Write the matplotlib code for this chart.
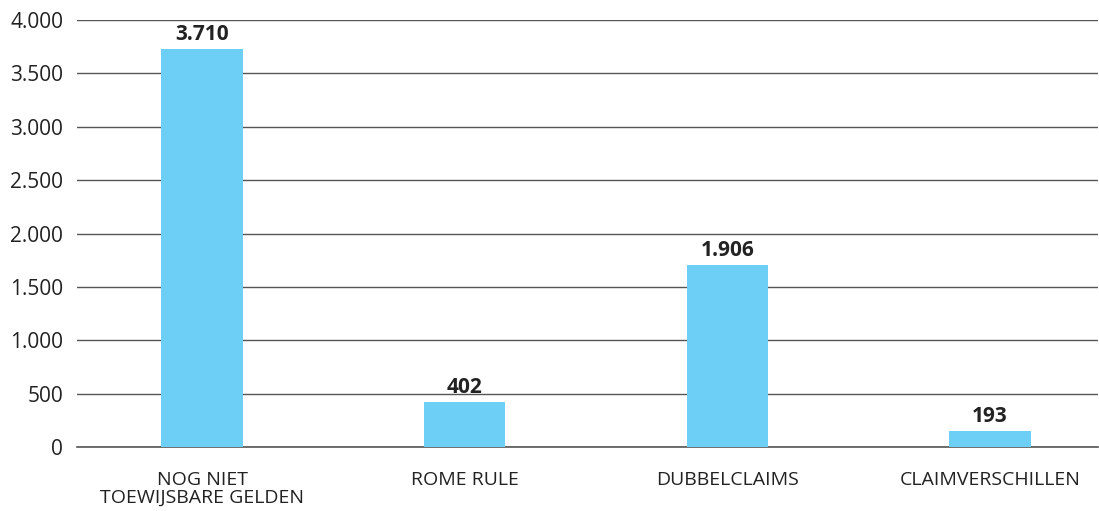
import numpy as np
import matplotlib
matplotlib.use('Agg')
import matplotlib.pyplot as plt

plt.rcParams['font.family'] = ['Open Sans', 'DejaVu Sans']

categories = ['NOG NIET\nTOEWIJSBARE GELDEN', 'ROME RULE', 'DUBBELCLAIMS', 'CLAIMVERSCHILLEN']
# bar heights as drawn in the picture (labels differ from drawn heights)
heights = [3725, 421, 1705, 150]
value_labels = ['3.710', '402', '1.906', '193']
yticks = [0, 500, 1000, 1500, 2000, 2500, 3000, 3500, 4000]
ytick_labels = ['0', '500', '1.000', '1.500', '2.000', '2.500', '3.000', '3.500', '4.000']

fig = plt.figure(figsize=(10.99, 5.11), dpi=100)
ax = fig.add_axes([0.0701, 0.1252, 0.929, 0.8357])

x = np.arange(len(categories))
ax.bar(x, heights, width=0.31, color='#6dcff6', zorder=3)

for xi, h, lab in zip(x, heights, value_labels):
    ax.text(xi, h + 40, lab, ha='center', va='bottom', fontsize=15,
            fontweight='bold', color='#222222')

ax.set_ylim(0, 4000)
ax.set_xlim(-0.476, 3.412)
ax.set_yticks(yticks)
ax.set_yticklabels(ytick_labels, fontsize=15, color='#222222')
ax.set_xticks(x)
ax.set_xticklabels(categories, fontsize=14, color='#222222', linespacing=1.0)
ax.tick_params(axis='y', length=0, pad=10)
ax.tick_params(axis='x', length=0, pad=17)
ax.grid(axis='y', color='#555555', linewidth=1.0, zorder=0)
ax.axhline(0, color='#555555', linewidth=1.2, zorder=2, clip_on=False)
for s in ax.spines.values():
    s.set_visible(False)

fig.savefig('out.png', dpi=100)
